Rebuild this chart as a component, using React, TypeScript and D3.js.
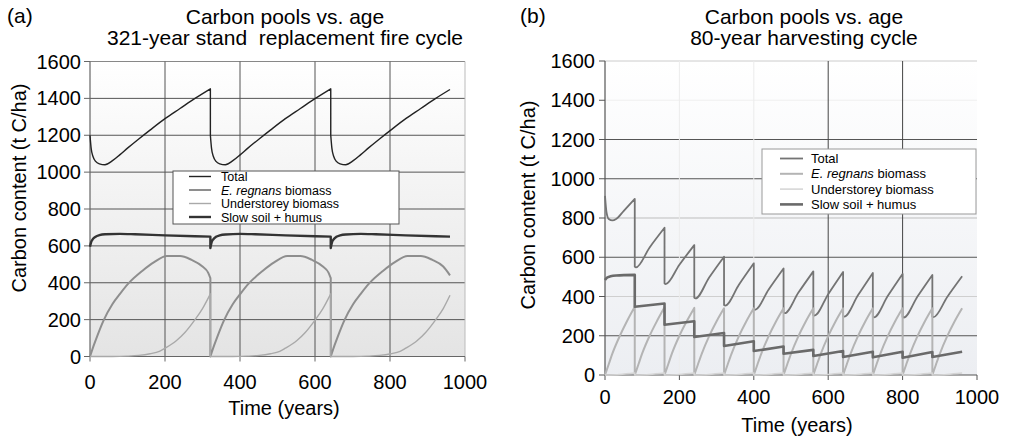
import React from "react";
import * as d3 from "d3";

type Pt = [number, number];

const xTicks = [0, 200, 400, 600, 800, 1000];
const yTicks = [0, 200, 400, 600, 800, 1000, 1200, 1400, 1600];

// ---- (a) 321-year stand replacement fire cycle ----
const fireTotal: Pt[] = [
  [0, 1200], [3, 1130], [8, 1085], [15, 1058], [25, 1045], [40, 1040], [60, 1062], [80, 1095], [100, 1130], [130, 1180], [160, 1228], [200, 1290], [240, 1345], [280, 1400], [321, 1452],
  [321, 1200], [324, 1130], [329, 1085], [336, 1058], [346, 1045], [361, 1040], [381, 1062], [401, 1095], [421, 1130], [451, 1180], [481, 1228], [521, 1290], [561, 1345], [601, 1400], [642, 1452],
  [642, 1200], [645, 1130], [650, 1085], [657, 1058], [667, 1045], [682, 1040], [702, 1062], [722, 1095], [742, 1130], [772, 1180], [802, 1228], [842, 1290], [882, 1345], [922, 1400], [960, 1448],
];
const fireEregnans: Pt[] = [
  [0, 0], [10, 60], [20, 115], [36, 195], [60, 285], [80, 340], [102, 395], [140, 465], [170, 510], [205, 545], [240, 545], [270, 525], [300, 488], [315, 455], [321, 425],
  [321, 0], [331, 60], [341, 115], [357, 195], [381, 285], [401, 340], [423, 395], [461, 465], [491, 510], [526, 545], [561, 545], [591, 525], [621, 488], [636, 455], [642, 425],
  [642, 0], [652, 60], [662, 115], [678, 195], [702, 285], [722, 340], [744, 395], [782, 465], [812, 510], [847, 545], [882, 545], [912, 525], [942, 488], [960, 440],
];
const fireUnderstorey: Pt[] = [
  [0, 0], [60, 0], [100, 2], [130, 6], [160, 15], [185, 28], [200, 45], [230, 85], [253, 130], [280, 200], [300, 260], [321, 340],
  [321, 0], [381, 0], [421, 2], [451, 6], [481, 15], [506, 28], [521, 45], [551, 85], [574, 130], [601, 200], [621, 260], [642, 340],
  [642, 0], [702, 0], [742, 2], [772, 6], [802, 15], [827, 28], [842, 45], [872, 85], [895, 130], [922, 200], [942, 260], [960, 332],
];
const fireSoil: Pt[] = [
  [0, 595], [3, 620], [8, 638], [15, 650], [25, 658], [40, 663], [80, 665], [120, 663], [200, 657], [280, 652], [321, 650],
  [321, 588], [324, 618], [329, 636], [336, 649], [346, 657], [361, 662], [401, 665], [441, 663], [521, 657], [601, 652], [642, 650],
  [642, 588], [645, 618], [650, 636], [657, 649], [667, 657], [682, 662], [722, 665], [762, 663], [842, 657], [922, 652], [960, 650],
];

// ---- (b) 80-year harvesting cycle ----
const harvestTotal: Pt[] = [
  [0, 913], [4, 830], [10, 795], [20, 788], [30, 795], [50, 835], [80, 897],
  [80, 552], [83, 548], [120, 650], [160, 750],
  [160, 467], [163, 463], [200, 562], [240, 662],
  [240, 394], [243, 390], [280, 497], [320, 603],
  [320, 357], [323, 354], [360, 460], [400, 569],
  [400, 335], [403, 332], [440, 436], [480, 543],
  [480, 318], [483, 315], [520, 420], [560, 528],
  [560, 306], [563, 303], [600, 412], [640, 525],
  [640, 300], [643, 297], [680, 406], [720, 520],
  [720, 297], [723, 294], [760, 402], [800, 515],
  [800, 296], [803, 293], [840, 400], [880, 510],
  [880, 298], [883, 295], [920, 398], [960, 503],
];
const harvestEregnans: Pt[] = [
  [0, 0], [10, 55], [20, 110], [40, 200], [60, 278], [80, 348],
  [80, 0], [90, 55], [100, 110], [120, 200], [140, 276], [160, 345],
  [160, 0], [170, 55], [180, 110], [200, 200], [220, 275], [240, 342],
  [240, 0], [250, 55], [260, 108], [280, 198], [300, 274], [320, 340],
  [320, 0], [330, 55], [340, 108], [360, 198], [380, 274], [400, 340],
  [400, 0], [410, 55], [420, 108], [440, 198], [460, 274], [480, 340],
  [480, 0], [490, 55], [500, 108], [520, 198], [540, 274], [560, 340],
  [560, 0], [570, 55], [580, 108], [600, 198], [620, 274], [640, 340],
  [640, 0], [650, 55], [660, 108], [680, 198], [700, 274], [720, 340],
  [720, 0], [730, 55], [740, 108], [760, 198], [780, 274], [800, 340],
  [800, 0], [810, 55], [820, 108], [840, 198], [860, 274], [880, 340],
  [880, 0], [890, 55], [900, 108], [920, 198], [940, 274], [960, 340],
];
const harvestUnderstorey: Pt[] = [
  [0, 0], [40, 3], [80, 10], [80, 0], [120, 3], [160, 10], [160, 0], [200, 3], [240, 10],
  [240, 0], [280, 3], [320, 10], [320, 0], [360, 3], [400, 10], [400, 0], [440, 3], [480, 10],
  [480, 0], [520, 3], [560, 10], [560, 0], [600, 3], [640, 10], [640, 0], [680, 3], [720, 10],
  [720, 0], [760, 3], [800, 10], [800, 0], [840, 3], [880, 10], [880, 0], [920, 3], [960, 10],
];
const harvestSoil: Pt[] = [
  [0, 484], [5, 495], [15, 503], [30, 507], [80, 510],
  [80, 348], [160, 364],
  [160, 256], [240, 274],
  [240, 194], [320, 214],
  [320, 148], [400, 172],
  [400, 122], [480, 145],
  [480, 108], [560, 128],
  [560, 97], [640, 122],
  [640, 92], [720, 118],
  [720, 90], [800, 118],
  [800, 88], [880, 117],
  [880, 92], [960, 118],
];

const FONT = "'Liberation Sans', Arial, Helvetica, sans-serif";

type SeriesStyle = { data: Pt[]; color: string; width: number };
type GridLine = { v: number; color: string };

// Split a series at its vertical drops, smooth each run, and join runs with straight drops.
function seriesPath(pts: Pt[], x: d3.ScaleLinear<number, number>, y: d3.ScaleLinear<number, number>): string {
  const runs: Pt[][] = [];
  let cur: Pt[] = [];
  pts.forEach((p, i) => {
    if (i > 0 && p[0] === pts[i - 1][0]) {
      runs.push(cur);
      cur = [];
    }
    cur.push(p);
  });
  runs.push(cur);
  const gen = d3.line<Pt>().x((d) => x(d[0])).y((d) => y(d[1])).curve(d3.curveMonotoneX);
  return runs
    .map((r, i) => {
      const d = r.length > 1 ? gen(r) || "" : `M${x(r[0][0])},${y(r[0][1])}`;
      return i === 0 ? d : "L" + d.slice(1);
    })
    .join("");
}

type PanelProps = {
  id: string;
  tag: string;
  tagX: number;
  title: [string, string];
  titleX: number;
  xRange: [number, number];
  yRange: [number, number];
  series: SeriesStyle[];
  hGrid: GridLine[];
  vGrid: GridLine[];
  axisColor: string;
  bgTop: string;
  bgBottom: string;
  xLabelY: number;
  xTitleX: number;
  xTitleY: number;
  yLabelX: number;
  yTitleX: number;
  yTitleY: number;
  legend: { x: number; y: number; w: number; h: number; row0: number; rowStep: number; lineX: [number, number]; textX: number; fontSize: number; stroke: string };
};

function Panel(p: PanelProps) {
  const x = d3.scaleLinear().domain([0, 1000]).range(p.xRange);
  const y = d3.scaleLinear().domain([0, 1600]).range(p.yRange);
  const [x0, x1] = p.xRange;
  const [yb, yt] = p.yRange;
  const labels = ["Total", "E. regnans biomass", "Understorey biomass", "Slow soil + humus"];
  return (
    <g>
      <defs>
        <linearGradient id={`bg-${p.id}`} x1="0" y1="0" x2="0" y2="1">
          <stop offset="0" stopColor={p.bgTop} />
          <stop offset="1" stopColor={p.bgBottom} />
        </linearGradient>
      </defs>
      <text x={p.tagX} y={23} fontSize={21} fontFamily={FONT}>{p.tag}</text>
      <text x={p.titleX} y={24} fontSize={21} fontFamily={FONT} textAnchor="middle" style={{ whiteSpace: "pre" }}>{p.title[0]}</text>
      <text x={p.titleX} y={45} fontSize={21} fontFamily={FONT} textAnchor="middle" style={{ whiteSpace: "pre" }}>{p.title[1]}</text>

      <rect x={x0} y={yt} width={x1 - x0} height={yb - yt} fill={`url(#bg-${p.id})`} />

      {p.hGrid.map((g) => (
        <line key={`h${g.v}`} x1={x0} x2={x1} y1={y(g.v)} y2={y(g.v)} stroke={g.color} strokeWidth={1} />
      ))}
      {p.vGrid.map((g) => (
        <line key={`v${g.v}`} x1={x(g.v)} x2={x(g.v)} y1={yt} y2={yb} stroke={g.color} strokeWidth={1} />
      ))}

      {/* axes */}
      <line x1={x0} x2={x0} y1={yt} y2={yb} stroke={p.axisColor} strokeWidth={1.2} />
      <line x1={x0} x2={x1} y1={yb} y2={yb} stroke={p.axisColor} strokeWidth={1.2} />
      {yTicks.map((t) => (
        <g key={`yt${t}`}>
          <line x1={x0 - 6} x2={x0} y1={y(t)} y2={y(t)} stroke={p.axisColor} strokeWidth={1} />
          <text x={p.yLabelX} y={y(t) + 7} fontSize={20} fontFamily={FONT} textAnchor="end">{t}</text>
        </g>
      ))}
      {xTicks.map((t) => (
        <g key={`xt${t}`}>
          <line x1={x(t)} x2={x(t)} y1={yb} y2={yb + 5} stroke={p.axisColor} strokeWidth={1} />
          <text x={x(t)} y={p.xLabelY} fontSize={20} fontFamily={FONT} textAnchor="middle">{t}</text>
        </g>
      ))}
      <text x={p.xTitleX} y={p.xTitleY} fontSize={20} fontFamily={FONT} textAnchor="middle">Time (years)</text>
      <text
        transform={`translate(${p.yTitleX},${p.yTitleY}) rotate(-90)`}
        fontSize={20}
        fontFamily={FONT}
        textAnchor="middle"
      >
        Carbon content (t C/ha)
      </text>

      {p.series.map((s, i) => (
        <path key={`s${i}`} d={seriesPath(s.data, x, y)} fill="none" stroke={s.color} strokeWidth={s.width} strokeLinejoin="round" />
      ))}

      {/* legend */}
      <rect x={p.legend.x} y={p.legend.y} width={p.legend.w} height={p.legend.h} fill="#fff" stroke={p.legend.stroke} strokeWidth={1} />
      {p.series.map((s, i) => {
        const cy = p.legend.row0 + i * p.legend.rowStep;
        return (
          <g key={`lg${i}`}>
            <line x1={p.legend.lineX[0]} x2={p.legend.lineX[1]} y1={cy} y2={cy} stroke={s.color} strokeWidth={s.width} />
            <text x={p.legend.textX} y={cy + p.legend.fontSize * 0.36} fontSize={p.legend.fontSize} fontFamily={FONT}>
              {i === 1 ? (
                <>
                  <tspan fontStyle="italic">E. regnans</tspan>
                  <tspan> biomass</tspan>
                </>
              ) : (
                labels[i]
              )}
            </text>
          </g>
        );
      })}
    </g>
  );
}

export default function App() {
  const dark = "#555";
  return (
    <svg width={1009} height={440} style={{ position: "fixed", left: 0, top: 0, background: "#fff" }}>
      <Panel
        id="a"
        tag="(a)"
        tagX={7}
        title={["Carbon pools vs. age", "321-year stand  replacement fire cycle"]}
        titleX={285}
        xRange={[90, 465]}
        yRange={[356.5, 61.5]}
        series={[
          { data: fireTotal, color: "#222", width: 1.4 },
          { data: fireEregnans, color: "#8e8e8e", width: 2 },
          { data: fireUnderstorey, color: "#a9a9a9", width: 1.4 },
          { data: fireSoil, color: "#333", width: 2.4 },
        ]}
        hGrid={[200, 400, 600, 800, 1000, 1200, 1400].map((v) => ({ v, color: dark })).concat([{ v: 1600, color: "#888" }])}
        vGrid={[200, 400, 600, 800].map((v) => ({ v, color: dark })).concat([{ v: 1000, color: "#bbb" }])}
        axisColor="#666"
        bgTop="#ffffff"
        bgBottom="#e4e4e4"
        xLabelY={389}
        xTitleX={284}
        xTitleY={415}
        yLabelX={81}
        yTitleX={26}
        yTitleY={188}
        legend={{ x: 173, y: 171, w: 226, h: 53, row0: 176.5, rowStep: 13.5, lineX: [189, 211], textX: 221, fontSize: 12.5, stroke: "#555" }}
      />
      <Panel
        id="b"
        tag="(b)"
        tagX={520}
        title={["Carbon pools vs. age", "80-year harvesting cycle"]}
        titleX={804}
        xRange={[605, 977]}
        yRange={[375, 61]}
        series={[
          { data: harvestTotal, color: "#747474", width: 1.8 },
          { data: harvestEregnans, color: "#b4b4b4", width: 2 },
          { data: harvestUnderstorey, color: "#d4d4d4", width: 1.5 },
          { data: harvestSoil, color: "#6a6a6a", width: 2.6 },
        ]}
        hGrid={[
          { v: 200, color: dark },
          { v: 400, color: "#cfcfcf" },
          { v: 600, color: dark },
          { v: 800, color: "#bdbdbd" },
          { v: 1000, color: dark },
          { v: 1200, color: dark },
          { v: 1400, color: "#efefef" },
          { v: 1600, color: "#cccccc" },
        ]}
        vGrid={[
          { v: 200, color: "#ececec" },
          { v: 400, color: "#ececec" },
          { v: 600, color: "#444" },
          { v: 800, color: "#444" },
        ]}
        axisColor="#555"
        bgTop="#ffffff"
        bgBottom="#eceef2"
        xLabelY={404}
        xTitleX={797}
        xTitleY={432}
        yLabelX={595}
        yTitleX={535}
        yTitleY={205}
        legend={{ x: 762, y: 149, w: 214, h: 65, row0: 158.5, rowStep: 15.3, lineX: [780, 803], textX: 811, fontSize: 13, stroke: "#999" }}
      />
    </svg>
  );
}
